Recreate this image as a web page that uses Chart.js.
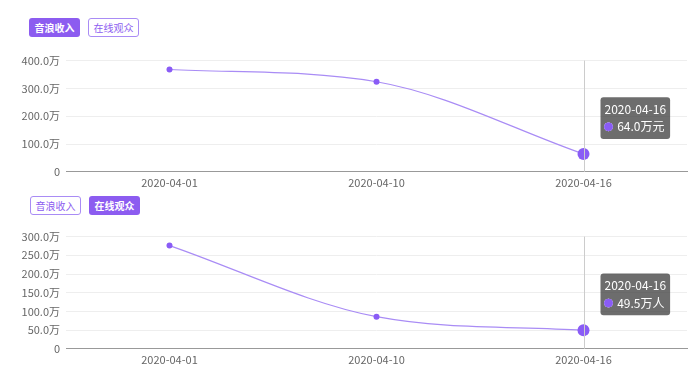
<!DOCTYPE html>
<html>
<head>
<meta charset="utf-8">
<script src="https://cdn.jsdelivr.net/npm/chart.js@4"></script>
<style>
    body { margin: 0; background: #fff; font-family: 'Noto Sans CJK SC', sans-serif; overflow: hidden; }
    .btn { position: absolute; width: 51px; height: 19px; line-height: 19px; font-size: 10px; text-align: center; border-radius: 3px; box-sizing: border-box; }
    .on { background: #8c5cf0; color: #fff; font-weight: bold; }
    .off { border: 1px solid #a98cf5; color: #8c5cf0; line-height: 17px; }
    .box { position: absolute; left: 19px; width: 674px; }
</style>
</head>
<body>
<div class="btn on" style="left:29px;top:18px;">音浪收入</div>
<div class="btn off" style="left:88px;top:18px;">在线观众</div>
<div class="box" style="top:48px;height:145px;"><canvas id="incomeChart"></canvas></div>

<div class="btn off" style="left:30px;top:196px;">音浪收入</div>
<div class="btn on" style="left:89px;top:196px;">在线观众</div>
<div class="box" style="top:224px;height:146px;"><canvas id="viewerChart"></canvas></div>

<script>
    // data
    const dates = ['2020-04-01', '2020-04-10', '2020-04-16'];
    const incomeValues = [368, 324, 64.0];
    const viewerValues = [276, 86, 49.5];

    Chart.defaults.font.family = "'Noto Sans CJK SC', sans-serif";
    Chart.defaults.font.size = 11;
    Chart.defaults.color = '#666';

    Chart.Tooltip.positioners.sideUp = function (elements) {
        if (!elements.length) return false;
        const el = elements[0].element;
        return { x: el.x + 20, y: el.y - 15 };
    };

    // vertical line at the active point
    const crossLine = {
        id: 'crossLine',
        afterDatasetsDraw(chart) {
            const active = chart.getActiveElements();
            if (!active.length) return;
            const x = active[0].element.x;
            const ctx = chart.ctx;
            ctx.save();
            ctx.strokeStyle = '#ccc';
            ctx.lineWidth = 1;
            ctx.beginPath();
            ctx.moveTo(Math.round(x) + 0.5, chart.chartArea.top);
            ctx.lineTo(Math.round(x) + 0.5, chart.chartArea.bottom);
            ctx.stroke();
            ctx.restore();
        }
    };

    function makeChart(id, values, max, step, unit) {
        const ctx = document.getElementById(id).getContext('2d');
        const chart = new Chart(ctx, {
            type: 'line',
            data: {
                labels: dates,
                datasets: [{
                    data: values,
                    borderColor: '#a98cf5',
                    borderWidth: 1.2,
                    backgroundColor: '#8a5cf6',
                    pointBackgroundColor: '#8a5cf6',
                    pointBorderWidth: 0,
                    pointRadius: 3,
                    pointHoverRadius: 6,
                    pointHoverBorderWidth: 0,
                    pointHoverBackgroundColor: '#8a5cf6',
                    cubicInterpolationMode: 'monotone',
                    fill: false
                }]
            },
            options: {
                responsive: true,
                maintainAspectRatio: false,
                animation: false,
                events: [],
                layout: { padding: 0 },
                plugins: {
                    legend: { display: false },
                    tooltip: {
                        position: 'sideUp',
                        xAlign: 'left',
                        yAlign: 'bottom',
                        caretSize: 0,
                        caretPadding: 0,
                        cornerRadius: 3,
                        backgroundColor: 'rgba(60, 60, 60, 0.75)',
                        padding: { x: 4, y: 5 },
                        titleFont: { size: 12, weight: 'normal' },
                        titleMarginBottom: 3,
                        bodyFont: { size: 12 },
                        usePointStyle: true,
                        boxWidth: 8,
                        boxHeight: 8,
                        callbacks: {
                            label: function (context) {
                                return ' ' + context.parsed.y.toFixed(1) + unit;
                            },
                            labelColor: function () {
                                return { borderColor: '#8a5cf6', backgroundColor: '#8a5cf6' };
                            },
                            labelPointStyle: function () {
                                return { pointStyle: 'circle', rotation: 0 };
                            }
                        }
                    }
                },
                scales: {
                    y: {
                        min: 0,
                        max: max,
                        afterFit: function (scale) { scale.width = 47; },
                        border: { display: false },
                        grid: { color: '#eee', drawTicks: false },
                        ticks: {
                            stepSize: step,
                            padding: 6,
                            callback: function (value) {
                                return value === 0 ? '0' : value.toFixed(1) + '万';
                            }
                        }
                    },
                    x: {
                        offset: true,
                        border: { color: '#999' },
                        grid: { display: false, drawTicks: false },
                        ticks: { padding: 4 }
                    }
                }
            },
            plugins: [crossLine]
        });
        const last = values.length - 1;
        chart.setActiveElements([{ datasetIndex: 0, index: last }]);
        chart.tooltip.setActiveElements([{ datasetIndex: 0, index: last }], { x: 0, y: 0 });
        chart.update();
        return chart;
    }

    const incomeChart = makeChart('incomeChart', incomeValues, 400, 100, '万元');
    const viewerChart = makeChart('viewerChart', viewerValues, 300, 50, '万人');
</script>
</body>
</html>
